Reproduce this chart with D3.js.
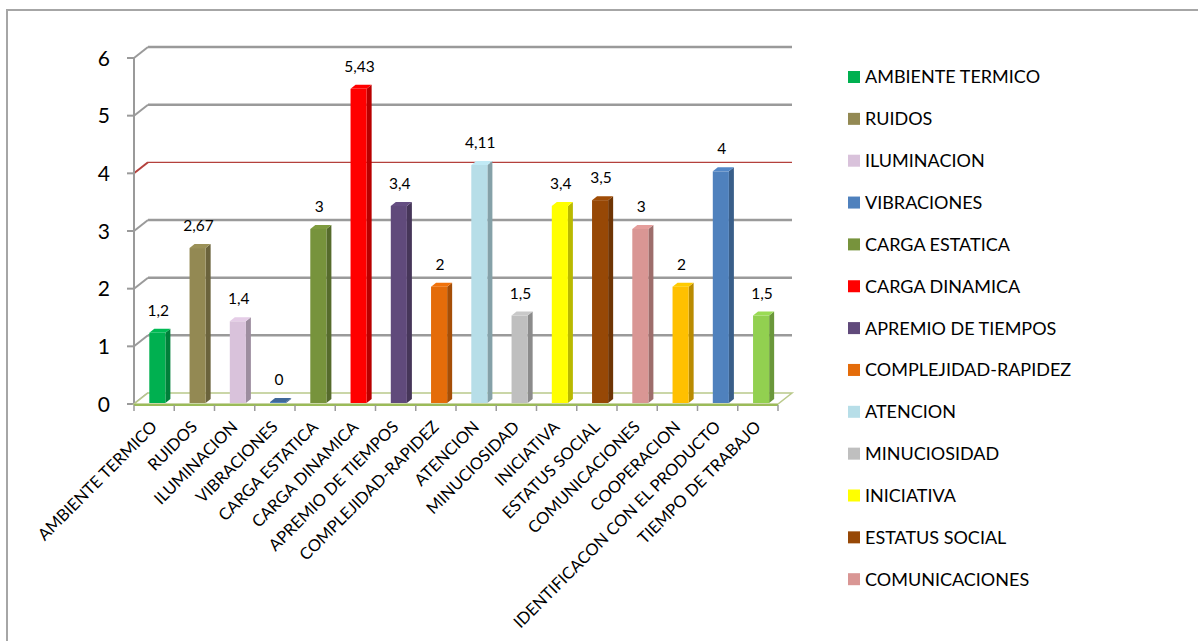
<!DOCTYPE html>
<html>
<head>
<meta charset="utf-8">
<script src="https://cdn.jsdelivr.net/npm/d3@7"></script>
<style>
  html, body { margin: 0; padding: 0; background: #fff; }
  svg { display: block; font-family: Lato, "Open Sans", sans-serif; }
</style>
</head>
<body>
<svg id="chart" width="1198" height="641"></svg>
<script>
// Factor scores per category
const categories = [
  "AMBIENTE TERMICO", "RUIDOS", "ILUMINACION", "VIBRACIONES", "CARGA ESTATICA",
  "CARGA DINAMICA", "APREMIO DE TIEMPOS", "COMPLEJIDAD-RAPIDEZ", "ATENCION",
  "MINUCIOSIDAD", "INICIATIVA", "ESTATUS SOCIAL", "COMUNICACIONES",
  "COOPERACION", "IDENTIFICACON CON EL PRODUCTO", "TIEMPO DE TRABAJO"
];
const values = [1.2, 2.67, 1.4, 0, 3, 5.43, 3.4, 2, 4.11, 1.5, 3.4, 3.5, 3, 2, 4, 1.5];
const valueLabels = ["1,2", "2,67", "1,4", "0", "3", "5,43", "3,4", "2", "4,11", "1,5", "3,4", "3,5", "3", "2", "4", "1,5"];
const colors = [
  "#00b050", "#938953", "#d9c2db", "#4f81bd", "#77933c", "#ff0000", "#604a7b", "#e46c0a",
  "#b7dee8", "#bfbfbf", "#ffff00", "#974806", "#d99694", "#ffc000", "#4f81bd", "#92d050"
];
const yTicks = [0, 1, 2, 3, 4, 5, 6];
const legendCount = 13; // entries that fit in the legend column

const svg = d3.select("#chart");

// outer chart border
svg.append("rect")
  .attr("x", 7).attr("y", 10).attr("width", 1230).attr("height", 660)
  .attr("fill", "none").attr("stroke", "#a6a6a6").attr("stroke-width", 2);

// plot geometry (front plane + depth offset for the 3D walls)
const x0 = 134, x1 = 778;
const depthX = 14, depthY = -11;
const y = d3.scaleLinear().domain([0, 6]).range([404, 58]);
const x = d3.scaleBand().domain(categories).range([x0, x1]).padding(0);

const grid = svg.append("g");
// back-wall gridlines with the diagonal wall edge
yTicks.forEach(t => {
  const yy = y(t);
  const col = t === 4 ? "#b4403c" : "#9a9a9a";
  const w = t === 4 ? 1.3 : 2.5;
  if (t > 0) {
    grid.append("line")
      .attr("x1", x0 + depthX).attr("x2", x1 + depthX)
      .attr("y1", yy + depthY).attr("y2", yy + depthY)
      .attr("stroke", col).attr("stroke-width", w);
  }
  grid.append("line")
    .attr("x1", x0).attr("y1", yy)
    .attr("x2", x0 + depthX).attr("y2", yy + depthY)
    .attr("stroke", t === 4 ? "#b4403c" : "#9a9a9a").attr("stroke-width", 2);
  grid.append("line")
    .attr("x1", x0 - 7).attr("x2", x0)
    .attr("y1", yy).attr("y2", yy)
    .attr("stroke", "#9a9a9a").attr("stroke-width", 2);
});
// vertical axis line
grid.append("line")
  .attr("x1", x0).attr("x2", x0).attr("y1", y(6)).attr("y2", y(0))
  .attr("stroke", "#9a9a9a").attr("stroke-width", 2);

// floor
grid.append("path")
  .attr("d", `M${x0},${y(0)} L${x0 + depthX},${y(0) + depthY} L${x1 + depthX},${y(0) + depthY} L${x1},${y(0)} Z`)
  .attr("fill", "#ffffff").attr("stroke", "#b9c98a").attr("stroke-width", 1.5);
grid.append("line")
  .attr("x1", x0).attr("x2", x1).attr("y1", y(0) + 1).attr("y2", y(0) + 1)
  .attr("stroke", "#9bbb59").attr("stroke-width", 2);

// category tick marks
d3.range(categories.length + 1).forEach(i => {
  const xx = x0 + i * x.step();
  grid.append("line")
    .attr("x1", xx).attr("x2", xx).attr("y1", y(0) + 1).attr("y2", y(0) + 7)
    .attr("stroke", "#9a9a9a").attr("stroke-width", 1.5);
});

// y tick labels
svg.append("g").selectAll("text").data(yTicks).join("text")
  .attr("x", 110).attr("y", d => y(d))
  .attr("dy", "0.36em")
  .attr("text-anchor", "end")
  .attr("font-size", 21)
  .attr("fill", "#000")
  .text(d => d);

// 3D columns
const barOff = 0.38, barW = 0.4, sideW = 5, topH = 4;
const bars = svg.append("g");
categories.forEach((c, i) => {
  const bx = x(c) + x.bandwidth() * barOff;
  const bw = x.bandwidth() * barW;
  const yb = y(0) - 1;
  const yt = y(values[i]) - 2;
  const base = d3.color(colors[i]);
  const side = base.darker(0.9);
  const top = base.brighter(0.15);
  const g = bars.append("g");
  g.append("path")
    .attr("d", `M${bx + bw},${yt} L${bx + bw + sideW},${yt - topH} L${bx + bw + sideW},${yb - topH} L${bx + bw},${yb} Z`)
    .attr("fill", side);
  g.append("rect")
    .attr("x", bx).attr("y", yt).attr("width", bw).attr("height", Math.max(0, yb - yt))
    .attr("fill", base);
  g.append("path")
    .attr("d", `M${bx},${yt} L${bx + bw},${yt} L${bx + bw + sideW},${yt - topH} L${bx + sideW},${yt - topH} Z`)
    .attr("fill", values[i] === 0 ? side.brighter(0.3) : top);
  // value label
  g.append("text")
    .attr("x", bx + bw / 2 + 1)
    .attr("y", yt - 17)
    .attr("text-anchor", "middle")
    .attr("font-size", 15.5)
    .attr("fill", "#000")
    .text(valueLabels[i]);
});

// rotated category labels
svg.append("g").selectAll("text").data(categories).join("text")
  .attr("transform", d => `translate(${x(d) + x.bandwidth() / 2 + 4},${428}) rotate(-45)`)
  .attr("text-anchor", "end")
  .attr("font-size", 16.5)
  .attr("fill", "#000")
  .text(d => d);

// legend
const legend = svg.append("g");
categories.slice(0, legendCount).forEach((c, i) => {
  const cy = 77 + i * 41.85;
  legend.append("rect")
    .attr("x", 848).attr("y", cy - 6).attr("width", 12).attr("height", 12)
    .attr("fill", colors[i]);
  legend.append("text")
    .attr("x", 865).attr("y", cy).attr("dy", "0.36em")
    .attr("font-size", 18)
    .attr("fill", "#000")
    .text(c);
});
</script>
</body>
</html>
